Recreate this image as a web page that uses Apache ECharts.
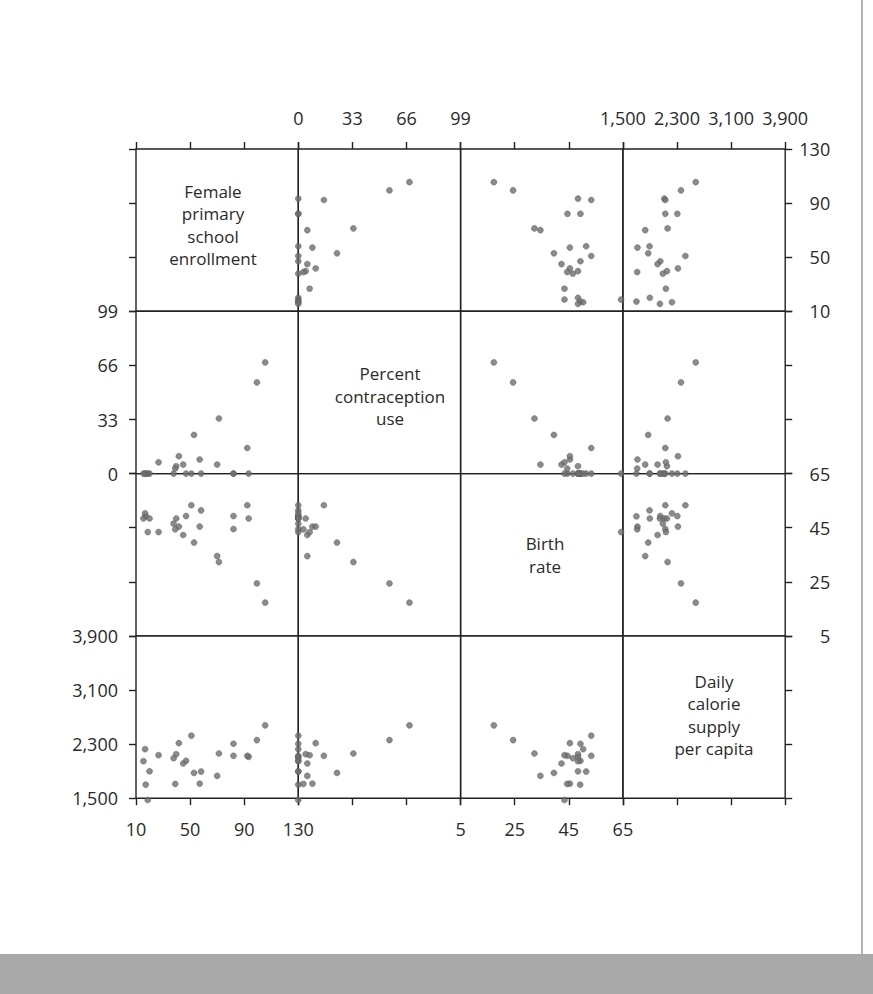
<!DOCTYPE html>
<html>
<head>
<meta charset="utf-8">
<script src="https://cdn.jsdelivr.net/npm/echarts@6/dist/echarts.min.js"></script>
<style>
    html, body { margin: 0; padding: 0; background: #fff; }
    #main { width: 873px; height: 994px; }
</style>
</head>
<body>
<div id="main"></div>
<script>
// names shown on the diagonal
var varNames = [
    'Female\nprimary\nschool\nenrollment',
    'Percent\ncontraception\nuse',
    'Birth\nrate',
    'Daily\ncalorie\nsupply\nper capita'
];

// one value per country, same order in every array
var enrollment    = [105.5, 99.4, 93.3, 92.3, 82.1, 82.1, 71.3, 70.0, 58.1, 57.1, 52.9, 50.9, 47.0, 44.9, 41.7, 39.7, 39.0, 37.8, 26.7, 20.0, 18.7, 17.2, 16.7, 15.5];
var contraception = [67.8, 55.6, 0, 15.6, 0, 0, 33.6, 5.5, 0, 8.6, 23.6, 0, 0, 5.5, 10.6, 4.5, 3.1, 0, 6.9, 0, 0, 0, 0, 0];
var birthRate     = [17.3, 24.4, 48.4, 53.3, 44.5, 49.3, 32.3, 34.5, 51.4, 45.4, 39.5, 53.3, 49.3, 42.3, 45.4, 48.4, 44.4, 46.5, 43.4, 48.4, 43.4, 49.2, 50.3, 48.4];
var calories      = [2577, 2359, 2112, 2127, 2127, 2305, 2161, 1830, 1894, 1715, 1874, 2424, 2053, 2013, 2314, 2151, 1711, 2091, 2136, 1898, 1473, 1700, 2225, 2047];

// tick values of each variable
var enrollTicks  = [10, 50, 90, 130];
var contraTicks  = [0, 33, 66, 99];
var birthTicks   = [5, 25, 45, 65];
var calorieTicks = [1500, 2300, 3100, 3900];

var vars = [
    { data: enrollment, ticks: enrollTicks },
    { data: contraception, ticks: contraTicks },
    { data: birthRate, ticks: birthTicks },
    { data: calories, ticks: calorieTicks }
];

// panel layout
var X0 = 136, Y0 = 149, W = 162.3, H = 162.3;
var lineColor = '#222';
var textColor = '#2a2a2a';
var fontFamily = '"Open Sans", "Noto Sans", sans-serif';

function fmt(v) {
    return v.toLocaleString('en-US');
}

var grids = [], xAxes = [], yAxes = [], series = [], graphics = [];

for (var i = 0; i < 4; i++) {
    for (var j = 0; j < 4; j++) {
        var k = grids.length;
        var vx = vars[j], vy = vars[i];
        grids.push({
            left: X0 + j * W,
            top: Y0 + i * H,
            width: W,
            height: H,
            show: true,
            borderColor: lineColor,
            borderWidth: 1.4,
            backgroundColor: 'transparent'
        });
        var xOuter = (i === 0 || i === 3);
        var xLabel = (i === 0 && j % 2 === 1) || (i === 3 && j % 2 === 0);
        xAxes.push({
            gridIndex: k,
            type: 'value',
            min: vx.ticks[0],
            max: vx.ticks[3],
            position: i === 0 ? 'top' : 'bottom',
            splitLine: { show: false },
            axisLine: { show: false },
            axisTick: {
                show: xOuter,
                customValues: vx.ticks,
                length: 7,
                lineStyle: { color: lineColor, width: 1.4 }
            },
            axisLabel: {
                show: xLabel,
                customValues: vx.ticks,
                formatter: fmt,
                margin: 22,
                showMinLabel: true,
                showMaxLabel: true,
                color: textColor,
                fontSize: 18,
                fontFamily: fontFamily
            }
        });
        var yOuter = (j === 0 || j === 3);
        var yLabel = (j === 0 && i % 2 === 1) || (j === 3 && i % 2 === 0);
        yAxes.push({
            gridIndex: k,
            type: 'value',
            min: vy.ticks[0],
            max: vy.ticks[3],
            position: j === 0 ? 'left' : 'right',
            splitLine: { show: false },
            axisLine: { show: false },
            axisTick: {
                show: yOuter,
                customValues: vy.ticks,
                length: 7,
                lineStyle: { color: lineColor, width: 1.4 }
            },
            axisLabel: {
                show: yLabel,
                customValues: vy.ticks,
                formatter: fmt,
                margin: j === 0 ? 18 : 45,
                align: 'right',
                showMinLabel: true,
                showMaxLabel: true,
                color: textColor,
                fontSize: 18,
                fontFamily: fontFamily
            }
        });
        if (i !== j) {
            var pts = [];
            for (var n = 0; n < enrollment.length; n++) {
                pts.push([vx.data[n], vy.data[n]]);
            }
            series.push({
                type: 'scatter',
                xAxisIndex: k,
                yAxisIndex: k,
                clip: false,
                symbolSize: 6,
                itemStyle: { color: '#6e6e6e', borderColor: '#555', borderWidth: 0.5 },
                data: pts
            });
        }
    }
}

// diagonal captions
var captionPos = [[213, 225], [390, 396], [545, 555], [714, 715]];
varNames.forEach(function (name, idx) {
    graphics.push({
        type: 'text',
        x: captionPos[idx][0],
        y: captionPos[idx][1],
        style: {
            text: name,
            x: 0,
            y: 0,
            align: 'center',
            verticalAlign: 'middle',
            lineHeight: 22.5,
            fill: textColor,
            font: '17px ' + fontFamily
        }
    });
});

// page edge and bottom band of the scan
graphics.push({
    type: 'line',
    shape: { x1: 862, y1: 0, x2: 862, y2: 954 },
    style: { stroke: '#666', lineWidth: 1 }
});
graphics.push({
    type: 'rect',
    shape: { x: 0, y: 954, width: 873, height: 40 },
    style: { fill: '#a9a9a9' }
});

var myChart = echarts.init(document.getElementById('main'), null, { renderer: 'svg' });
var option = {
    animation: false,
    backgroundColor: '#fff',
    grid: grids,
    xAxis: xAxes,
    yAxis: yAxes,
    series: series,
    graphic: graphics
};
myChart.setOption(option);
</script>
</body>
</html>
